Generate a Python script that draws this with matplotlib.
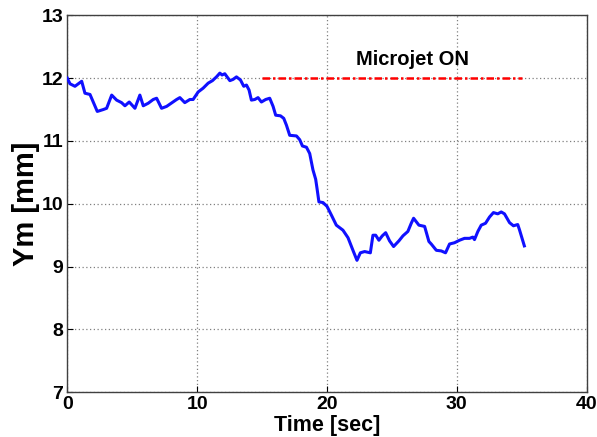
import matplotlib
matplotlib.use('Agg')
import matplotlib.pyplot as plt

plt.rcParams['font.family'] = ['Liberation Sans', 'DejaVu Sans']
plt.rcParams['font.weight'] = 'bold'

# Ym position over time
time_s = [0, 0.21, 0.59, 0.85, 1.11, 1.36, 1.75, 2.31, 2.77, 3.03, 3.42, 3.80, 4.18, 4.44,
          4.77, 5.21, 5.59, 5.85, 6.23, 6.62, 6.88, 7.26, 7.65, 8.42, 8.67, 9.05, 9.44, 9.69,
          10.08, 10.46, 10.85, 11.18, 11.49, 11.75, 11.92, 12.13, 12.52, 12.77, 13.03, 13.34,
          13.59, 13.80, 14.0, 14.18, 14.44, 14.69, 14.95, 15.28, 15.59, 15.85, 16.05, 16.42,
          16.67, 16.88, 17.13, 17.65, 17.9, 18.11, 18.42, 18.67, 18.92, 19.13, 19.23, 19.38,
          19.69, 20.0, 20.34, 20.72, 21.23, 21.62, 22.0, 22.31, 22.57, 22.9, 23.34, 23.54,
          23.75, 24.0, 24.26, 24.52, 24.82, 25.13, 25.54, 25.85, 26.23, 26.49, 26.67, 27.08,
          27.52, 27.85, 28.03, 28.42, 28.8, 29.13, 29.44, 29.82, 30.21, 30.59, 30.98, 31.23,
          31.36, 31.62, 31.88, 32.21, 32.52, 32.82, 33.15, 33.42, 33.67, 34.06, 34.36, 34.69,
          34.82, 35.2]
ym_mm = [12.0, 11.91, 11.87, 11.91, 11.95, 11.76, 11.74, 11.47, 11.50, 11.52, 11.73, 11.65,
         11.61, 11.56, 11.62, 11.52, 11.73, 11.56, 11.60, 11.66, 11.68, 11.52, 11.55, 11.66,
         11.69, 11.61, 11.66, 11.66, 11.78, 11.84, 11.92, 11.96, 12.02, 12.08, 12.05, 12.07,
         11.96, 11.98, 12.02, 11.97, 11.87, 11.89, 11.81, 11.65, 11.66, 11.69, 11.62, 11.66,
         11.68, 11.55, 11.41, 11.40, 11.36, 11.25, 11.09, 11.08, 11.02, 10.92, 10.90, 10.80,
         10.54, 10.39, 10.25, 10.03, 10.02, 9.96, 9.82, 9.66, 9.58, 9.46, 9.26, 9.10, 9.22,
         9.24, 9.22, 9.50, 9.50, 9.42, 9.49, 9.54, 9.41, 9.32, 9.41, 9.49, 9.56, 9.69, 9.77,
         9.66, 9.64, 9.40, 9.36, 9.26, 9.25, 9.22, 9.36, 9.38, 9.42, 9.45, 9.45, 9.47, 9.43,
         9.56, 9.66, 9.69, 9.79, 9.86, 9.84, 9.87, 9.84, 9.70, 9.65, 9.67, 9.59, 9.33]

# microjet actuation window
jet_on = [15, 35]
jet_level = 12.0

fig = plt.figure(figsize=(5.97, 4.37), dpi=100)
ax = fig.add_axes([0.1127, 0.1023, 0.870, 0.8627])

ax.plot(time_s, ym_mm, color='#1010ff', lw=2.2, zorder=3)
ax.plot(jet_on, [jet_level, jet_level], color='red', lw=1.8,
        linestyle=(0, (3, 1.2, 1, 1.2)), zorder=4)
ax.text(26.6, 12.15, 'Microjet ON', fontsize=14.5, fontweight='bold', ha='center', va='bottom')

ax.set_xlim(0, 40)
ax.set_ylim(7, 13)
ax.set_xticks([0, 10, 20, 30, 40])
ax.set_yticks([7, 8, 9, 10, 11, 12, 13])
ax.grid(True, color='#808080', linestyle=(0, (1, 2)), lw=0.9)
ax.tick_params(direction='in', length=4, labelsize=14, pad=3)
for s in ax.spines.values():
    s.set_color('#404040')
    s.set_linewidth(1.0)

ax.set_xlabel('Time [sec]', fontsize=15.5, fontweight='bold', labelpad=1)
ax.set_ylabel('Ym [mm]', fontsize=21, fontweight='bold', labelpad=1)

fig.savefig('out.png', dpi=100)
